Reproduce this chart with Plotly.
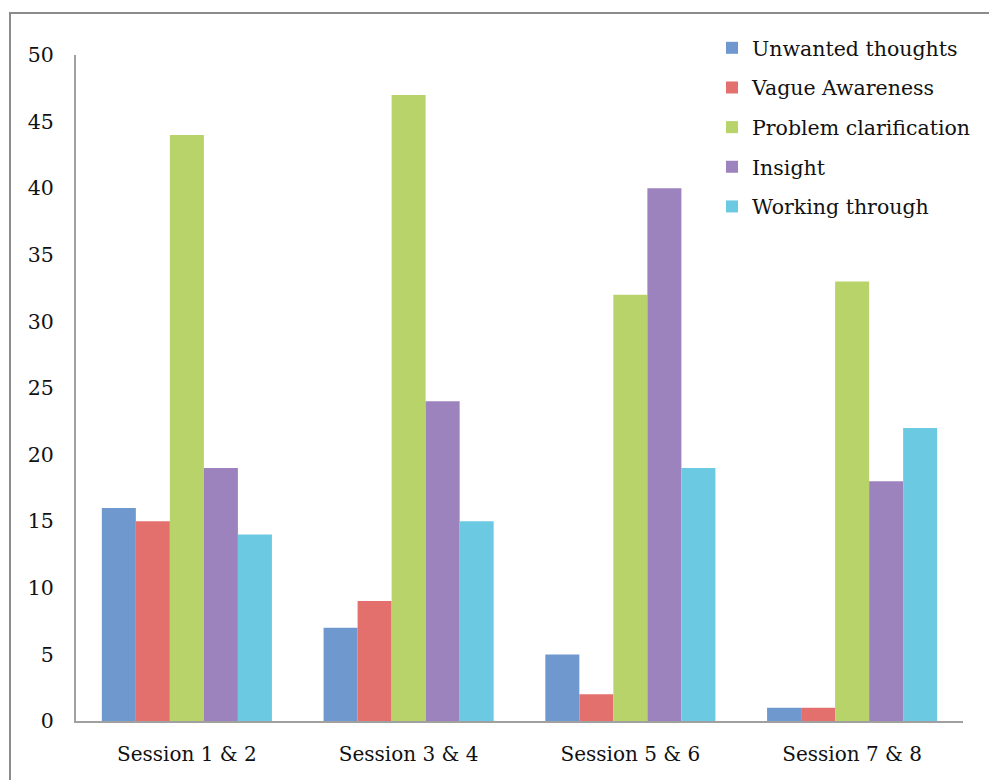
import plotly.graph_objects as go

categories = ["Session 1 & 2", "Session 3 & 4", "Session 5 & 6", "Session 7 & 8"]
series_names = ["Unwanted thoughts", "Vague Awareness", "Problem clarification", "Insight", "Working through"]
unwanted = [16, 7, 5, 1]
vague = [15, 9, 2, 1]
problem = [44, 47, 32, 33]
insight = [19, 24, 40, 18]
working = [14, 15, 19, 22]
series_values = [unwanted, vague, problem, insight, working]
colors = ["#6f98cf", "#e3706d", "#b7d36a", "#9d83bd", "#6cc9e2"]
y_ticks = [0, 5, 10, 15, 20, 25, 30, 35, 40, 45, 50]

FONT = "DejaVu Serif"
W, H = 989, 780
ML, MR, MT, MB = 76, 26, 55, 59
pw = W - ML - MR
ph = H - MT - MB

fig = go.Figure()
for name, vals, col in zip(series_names, series_values, colors):
    fig.add_trace(go.Bar(
        x=categories, y=vals, name=name, legendgroup=name,
        marker=dict(color=col, line=dict(width=0)),
    ))

def px_x(p):
    return (p - ML) / pw

def px_y(p):
    return (H - MB - p) / ph

fig.update_layout(
    width=W, height=H,
    margin=dict(l=ML, r=MR, t=MT, b=MB, autoexpand=False),
    paper_bgcolor="white", plot_bgcolor="white",
    barmode="group", bargap=0.233, bargroupgap=0,
    font=dict(family=FONT, size=20, color="#111111"),
    showlegend=True,
    legend=dict(
        x=px_x(712), y=px_y(28), xanchor="left", yanchor="top",
        font=dict(family=FONT, size=20.5, color="#111111"),
        tracegroupgap=10, bgcolor="rgba(0,0,0,0)",
    ),
    xaxis=dict(
        showline=True, linecolor="#a0a0a0", linewidth=2,
        showgrid=False, ticks="", ticklabelstandoff=14,
        tickfont=dict(family=FONT, size=20),
    ),
    yaxis=dict(
        range=[0, 50], tickvals=y_ticks, ticktext=[str(v) for v in y_ticks],
        showline=True, linecolor="#a0a0a0", linewidth=2,
        showgrid=False, zeroline=False, ticks="", ticklabelstandoff=16,
        tickfont=dict(family=FONT, size=20.5),
    ),
    shapes=[dict(
        type="rect", xref="paper", yref="paper",
        x0=px_x(10), x1=px_x(W + 20), y0=px_y(H + 20), y1=px_y(13),
        line=dict(color="#8c8c8c", width=2), fillcolor="rgba(0,0,0,0)",
        layer="below",
    )],
)

fig.write_html("out.html")
